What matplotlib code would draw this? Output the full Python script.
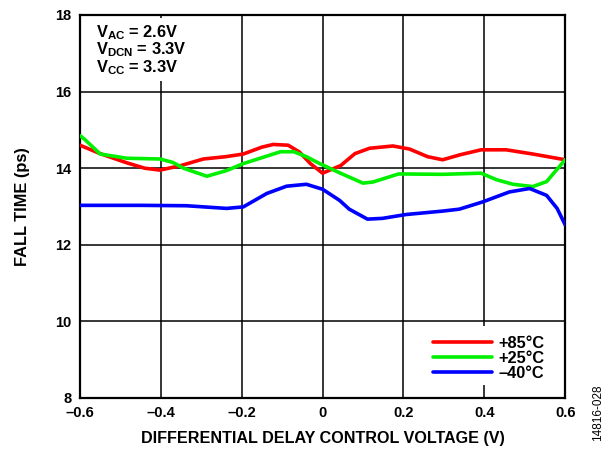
import matplotlib
matplotlib.use("Agg")
import matplotlib.pyplot as plt
from matplotlib.patches import Rectangle

plt.rcParams['font.family'] = ['Liberation Sans', 'DejaVu Sans']
plt.rcParams['font.weight'] = 'bold'
plt.rcParams['mathtext.fontset'] = 'custom'
plt.rcParams['mathtext.rm'] = 'Liberation Sans:bold'
plt.rcParams['mathtext.bf'] = 'Liberation Sans:bold'

# values
x_85 = [-0.6, -0.55, -0.484, -0.44, -0.402, -0.35, -0.295, -0.24, -0.196, -0.15, -0.122,
        -0.085, -0.057, -0.03, 0.0, 0.045, 0.08, 0.116, 0.174, 0.215, 0.26, 0.297, 0.34,
        0.392, 0.454, 0.52, 0.6]
t_85 = [14.6, 14.38, 14.14, 14.0, 13.95, 14.07, 14.24, 14.3, 14.37, 14.55, 14.62,
        14.6, 14.42, 14.12, 13.87, 14.07, 14.38, 14.52, 14.58, 14.5, 14.3, 14.22, 14.35,
        14.48, 14.48, 14.37, 14.22]

x_25 = [-0.6, -0.588, -0.55, -0.484, -0.402, -0.37, -0.344, -0.286, -0.237, -0.196,
        -0.104, -0.071, -0.04, -0.007, 0.042, 0.1, 0.125, 0.188, 0.297, 0.392, 0.43,
        0.471, 0.52, 0.554, 0.6]
t_25 = [14.85, 14.75, 14.37, 14.26, 14.24, 14.15, 14.0, 13.79, 13.94, 14.12,
        14.43, 14.43, 14.3, 14.12, 13.88, 13.61, 13.64, 13.85, 13.84, 13.87, 13.7,
        13.58, 13.52, 13.65, 14.22]

x_40 = [-0.6, -0.45, -0.337, -0.237, -0.196, -0.138, -0.089, -0.04, 0.0, 0.042, 0.066,
        0.111, 0.148, 0.206, 0.297, 0.338, 0.396, 0.462, 0.512, 0.554, 0.58, 0.6]
t_40 = [13.03, 13.03, 13.02, 12.95, 12.99, 13.34, 13.53, 13.58, 13.45, 13.16, 12.93,
        12.67, 12.69, 12.79, 12.88, 12.93, 13.12, 13.38, 13.47, 13.29, 12.95, 12.52]

series = [
    (x_85, t_85, '#ff0000', '+85°C'),
    (x_25, t_25, '#00f000', '+25°C'),
    (x_40, t_40, '#0000ff', '–40°C'),
]

fig = plt.figure(figsize=(6.15, 4.49), dpi=100)
ax = fig.add_axes([0.130, 0.1136, 0.789, 0.853])

for xs, ys, c, lab in series:
    ax.plot(xs, ys, color=c, lw=2.6, label=lab, zorder=3,
            solid_capstyle='round', solid_joinstyle='round')

ax.set_xlim(-0.6, 0.6)
ax.set_ylim(8, 18)
ax.set_xticks([-0.6, -0.4, -0.2, 0, 0.2, 0.4, 0.6])
ax.set_xticklabels(['–0.6', '–0.4', '–0.2', '0', '0.2', '0.4', '0.6'])
ax.set_yticks([8, 10, 12, 14, 16, 18])
ax.tick_params(length=0, labelsize=10.5, pad=6)
for lbl in ax.get_xticklabels() + ax.get_yticklabels():
    lbl.set_fontweight('bold')
ax.grid(True, color='black', lw=1.1)
ax.set_axisbelow(True)
for s in ax.spines.values():
    s.set_linewidth(1.6)

# white patches hiding the grid behind the note and the legend
ax.add_patch(Rectangle((0.004, 0.828), 0.25, 0.165, transform=ax.transAxes,
                       facecolor='white', edgecolor='none', zorder=1))
ax.add_patch(Rectangle((0.672, 0.034), 0.323, 0.154, transform=ax.transAxes,
                       facecolor='white', edgecolor='none', zorder=1))

notes = [r'$\mathrm{V_{AC}}$ = 2.6V', r'$\mathrm{V_{DCN}}$ = 3.3V', r'$\mathrm{V_{CC}}$ = 3.3V']
for i, note in enumerate(notes):
    ax.text(0.033, 0.955 - 0.046 * i, note, transform=ax.transAxes,
            fontsize=11.8, fontweight='bold', va='center', zorder=4)

leg = ax.legend(loc='upper left', bbox_to_anchor=(0.728, 0.162), frameon=False,
                borderpad=0, borderaxespad=0,
                handlelength=3.6, handletextpad=0.4, labelspacing=0.0,
                prop={'size': 11.8, 'weight': 'bold'})
leg.set_zorder(5)

ax.set_xlabel('DIFFERENTIAL DELAY CONTROL VOLTAGE (V)', fontsize=11.6, fontweight='bold',
              labelpad=8)
ax.set_ylabel('FALL TIME (ps)', fontsize=11.8, fontweight='bold', labelpad=18)

fig.text(0.972, 0.08, '14816-028', rotation=90, fontsize=8.5, fontweight='normal',
         ha='center', va='center')

fig.savefig('out.png', dpi=100)
